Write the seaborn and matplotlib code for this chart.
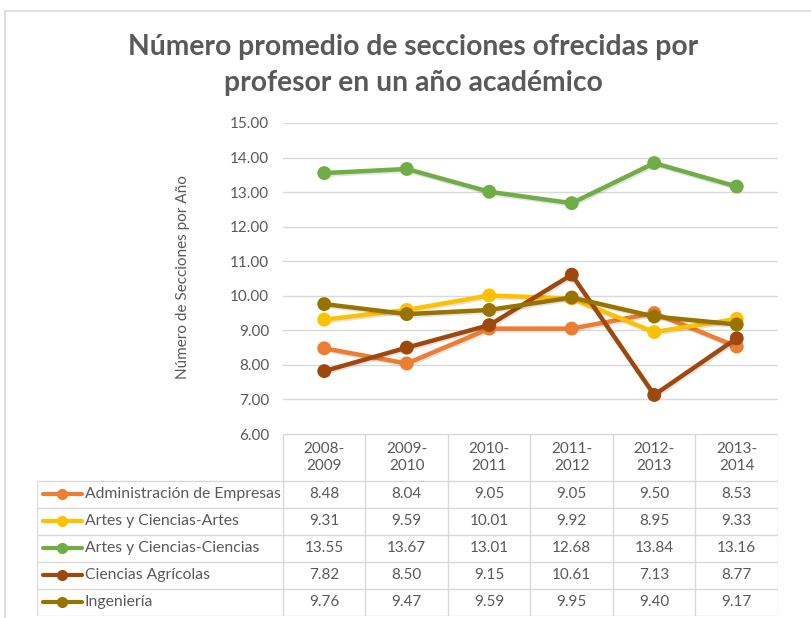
import numpy as np
import pandas as pd
import seaborn as sns
import matplotlib.pyplot as plt
from matplotlib.lines import Line2D
import matplotlib.patheffects as pe

years = ["2008-2009", "2009-2010", "2010-2011", "2011-2012", "2012-2013", "2013-2014"]
admin = [8.48, 8.04, 9.05, 9.05, 9.50, 8.53]
artes = [9.31, 9.59, 10.01, 9.92, 8.95, 9.33]
ciencias = [13.55, 13.67, 13.01, 12.68, 13.84, 13.16]
agricolas = [7.82, 8.50, 9.15, 10.61, 7.13, 8.77]
ingenieria = [9.76, 9.47, 9.59, 9.95, 9.40, 9.17]

series_names = ["Administración de Empresas", "Artes y Ciencias-Artes",
                "Artes y Ciencias-Ciencias", "Ciencias Agrícolas", "Ingeniería"]
series_values = [admin, artes, ciencias, agricolas, ingenieria]
colors = ["#ED7D31", "#FFC000", "#70AD47", "#9E480E", "#997300"]

df = pd.DataFrame({
    "serie": np.repeat(series_names, len(years)),
    "pos": np.tile(np.arange(len(years)), len(series_names)),
    "valor": np.concatenate(series_values),
})

sns.set_theme(style="white")
plt.rcParams["font.family"] = ["Lato", "DejaVu Sans"]
txt = "#595959"
grid = "#D9D9D9"

W, H = 812, 618
fig = plt.figure(figsize=(W / 100, H / 100), dpi=100)


def fx(px):
    return px / W


def fy(py):
    return 1 - py / H


# main plot area
x0, x1, ytop, ybot = 283, 778, 123, 434
ax = fig.add_axes([fx(x0), fy(ybot), fx(x1 - x0), (ybot - ytop) / H])
sns.lineplot(data=df, x="pos", y="valor", hue="serie", palette=colors,
             hue_order=series_names, marker="o", markersize=10, linewidth=3.2,
             markeredgewidth=0, legend=False, ax=ax, zorder=3)
for ln in ax.lines:
    ln.set_path_effects([pe.SimpleLineShadow(offset=(0.8, -1.2), alpha=0.12), pe.Normal()])
ax.set_xlim(-0.5, len(years) - 0.5)
ax.set_ylim(6, 15)
ax.set_yticks(np.arange(6, 16, 1))
ax.set_yticklabels([f"{v:.2f}" for v in np.arange(6, 16, 1)], color=txt, fontsize=11)
ax.set_xticks([])
ax.set_xlabel("")
ax.set_ylabel("")
ax.grid(axis="y", color=grid, linewidth=1)
for s in ax.spines.values():
    s.set_visible(False)
ax.tick_params(axis="y", length=0, pad=10)

fig.text(fx(183), fy(277), "Número de Secciones por Año", rotation=90,
         ha="center", va="center", color=txt, fontsize=11)

# title
fig.text(fx(413), fy(47), "Número promedio de secciones ofrecidas por",
         ha="center", va="center", color=txt, fontsize=20.3, fontweight="bold")
fig.text(fx(413), fy(83), "profesor en un año académico",
         ha="center", va="center", color=txt, fontsize=20.3, fontweight="bold")

# data table under the plot
tl, tt, tb = 37, 434, 616
tax = fig.add_axes([fx(tl), fy(tb), fx(x1 - tl), (tb - tt) / H])
tax.set_xlim(tl, x1)
tax.set_ylim(tb, tt)
tax.axis("off")
col_edges = np.linspace(x0, x1, len(years) + 1)
head_bot = 481
row_edges = np.linspace(head_bot, tb, len(series_names) + 1)
tax.hlines(tt, x0, x1, color=grid, lw=1)
tax.hlines(row_edges, tl, x1, color=grid, lw=1)
tax.vlines(col_edges, tt, tb, color=grid, lw=1)
tax.vlines(tl, head_bot, tb, color=grid, lw=1)
centers = (col_edges[:-1] + col_edges[1:]) / 2
for c, yr in zip(centers, years):
    a, b = yr.split("-")
    tax.text(c, (tt + head_bot) / 2, f"{a}-\n{b}", ha="center", va="center",
             color=txt, fontsize=11, linespacing=1.3)
for i, (name, vals, col) in enumerate(zip(series_names, series_values, colors)):
    yc = (row_edges[i] + row_edges[i + 1]) / 2
    tax.add_line(Line2D([43, 82], [yc, yc], color=col, lw=3))
    tax.plot([62.5], [yc], "o", color=col, markersize=7)
    tax.text(85, yc, name, ha="left", va="center", color=txt, fontsize=11.3)
    for c, v in zip(centers, vals):
        tax.text(c, yc, f"{v:.2f}", ha="center", va="center", color=txt, fontsize=11)

# chart border
fig.add_artist(Line2D([fx(5), fx(5)], [fy(11), 0], transform=fig.transFigure,
                      color="#D9D9D9", lw=1.2))
fig.add_artist(Line2D([fx(5), 1], [fy(11), fy(11)], transform=fig.transFigure,
                      color="#D9D9D9", lw=1.2))

fig.savefig("out.png", dpi=100)
